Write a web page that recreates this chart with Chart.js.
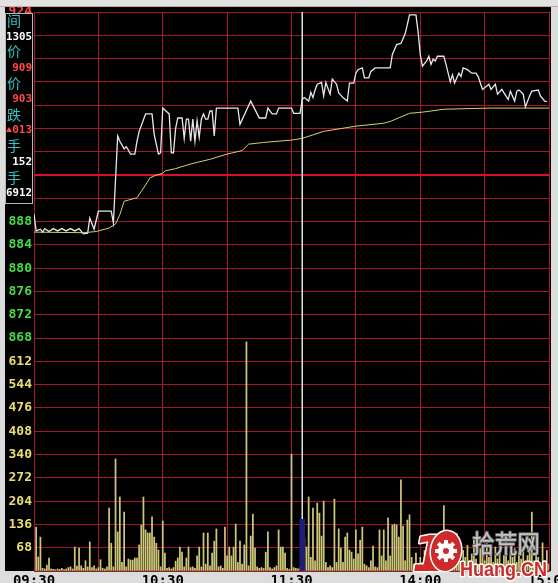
<!DOCTYPE html>
<html>
<head>
<meta charset="utf-8">
<script src="https://cdn.jsdelivr.net/npm/chart.js@4/dist/chart.umd.min.js"></script>
<style>
  html, body { margin: 0; padding: 0; background: #dcdcdc; }
  canvas { display: block; }
</style>
</head>
<body>
<canvas id="cChart" width="558" height="583"></canvas>
<script>
// minute index: 0 = 09:30, 120 = 11:30 / 13:00, 240 = 15:00
var timeLabels = { 0: '09:30', 60: '10:30', 120: '11:30', 180: '14:00', 240: '15:00' };

var prevClose = 896;
var priceMin = 868, priceMax = 924, priceStep = 4;
var volMin = 0, volMax = 680, volStep = 68;

// price line (white), vertices
var priceMinutes = [0, 1, 3, 4, 5, 7, 9, 11, 13, 15, 17, 19, 21, 23, 25, 26, 28, 30, 36, 37,
  39, 40, 42, 43, 45, 47, 48, 49, 52, 55, 56, 58, 59, 60, 63, 64, 65, 66, 67, 69,
  70, 71, 72, 73, 74, 75, 76, 77, 78, 79, 80, 81, 82, 83, 84, 85, 95, 96, 101, 105,
  108, 109, 111, 113, 114, 120, 121, 124, 125, 126, 128, 129, 130, 131, 132, 134, 135, 136, 138, 139,
  141, 142, 144, 146, 147, 149, 150, 151, 153, 154, 156, 157, 159, 166, 167, 169, 171, 173, 175, 178,
  179, 180, 181, 183, 184, 185, 186, 187, 188, 191, 192, 194, 195, 196, 198, 199, 200, 202, 204, 206,
  207, 208, 209, 211, 212, 213, 215, 216, 218, 219, 221, 222, 224, 225, 226, 228, 229, 231, 232, 235,
  236, 238, 239];
var priceValues = [889.3, 886.4, 886.7, 886.2, 886.8, 886.3, 886.8, 886.4, 886.8, 886.4, 886.8, 886.4, 886.8, 885.9, 886.0, 888.6, 886.7, 889.8, 889.8, 887.8,
  902.7, 901.8, 900.5, 900.9, 899.6, 899.6, 901.8, 903.5, 906.5, 906.5, 903.0, 899.6, 899.8, 907.5, 906.5, 899.8, 899.8, 904.0, 905.8, 905.8,
  902.3, 905.6, 905.6, 901.8, 905.6, 901.8, 905.3, 902.5, 905.6, 906.5, 905.6, 905.6, 907.0, 907.0, 902.7, 907.5, 907.5, 904.7, 908.7, 905.8,
  905.8, 907.5, 906.5, 906.5, 907.5, 907.5, 906.6, 906.6, 909.0, 909.3, 908.7, 910.2, 909.3, 910.6, 911.6, 911.9, 909.6, 911.9, 909.9, 912.5,
  911.6, 910.1, 909.3, 908.7, 911.8, 911.8, 913.5, 914.1, 914.4, 912.7, 912.7, 913.8, 914.4, 914.4, 916.7, 918.4, 918.6, 920.3, 923.5, 923.5,
  920.6, 916.7, 914.7, 915.6, 916.4, 915.0, 915.9, 915.6, 916.4, 916.4, 915.0, 912.0, 913.2, 911.8, 913.5, 912.9, 914.4, 914.1, 913.5, 913.5,
  912.9, 911.8, 910.7, 911.3, 911.6, 910.7, 911.6, 909.9, 910.7, 910.1, 909.0, 910.4, 908.7, 910.4, 910.6, 909.9, 907.7, 909.6, 910.4, 910.6,
  909.6, 908.7, 908.6];

// average price line (yellow)
var avgMinutes = [0, 23, 29, 35, 38, 40, 42, 48, 50, 52, 54, 57, 60, 61, 66, 73, 82, 90, 97, 100,
  107, 120, 125, 135, 150, 163, 166, 175, 181, 191, 212, 240];
var avgValues = [886.2, 886.1, 886.3, 886.9, 887.6, 889.2, 891.5, 892.1, 893.2, 894.3, 895.5, 896.0, 896.3, 896.7, 897.1, 897.9, 898.7, 899.6, 900.2, 901.3,
  901.6, 902.0, 902.3, 903.5, 904.4, 904.9, 905.2, 906.6, 906.8, 907.3, 907.5, 907.5];

// volume per minute, 0..240
var volValues = [
  0, 128, 41, 99, 8, 6, 17, 38, 6, 5,
  4, 6, 5, 8, 4, 6, 10, 12, 6, 70,
  14, 67, 15, 8, 30, 12, 85, 10, 15, 6,
  10, 33, 8, 6, 12, 184, 81, 12, 327, 114,
  216, 25, 172, 12, 35, 32, 32, 38, 38, 76,
  134, 216, 120, 111, 111, 158, 99, 81, 61, 12,
  146, 52, 8, 10, 6, 10, 29, 38, 70, 55,
  12, 38, 70, 10, 12, 8, 44, 70, 12, 111,
  20, 111, 15, 52, 87, 123, 12, 15, 8, 128,
  44, 70, 44, 70, 137, 25, 87, 20, 76, 669,
  15, 102, 166, 67, 12, 8, 10, 8, 55, 114,
  10, 6, 10, 15, 120, 70, 70, 52, 8, 5,
  341, 10, 8, 6, 10, 152, 96, 70, 216, 40,
  184, 30, 198, 169, 102, 204, 25, 10, 15, 10,
  210, 25, 123, 67, 25, 99, 111, 61, 55, 35,
  120, 50, 90, 128, 20, 15, 10, 30, 73, 12,
  10, 120, 44, 120, 30, 155, 44, 134, 137, 134,
  99, 266, 131, 30, 149, 164, 40, 20, 52, 15,
  40, 25, 60, 30, 80, 45, 20, 55, 35, 70,
  25, 191, 40, 60, 30, 85, 50, 110, 35, 25,
  60, 40, 75, 30, 50, 90, 35, 20, 65, 45,
  30, 80, 40, 55, 25, 70, 35, 60, 20, 45,
  85, 30, 50, 40, 65, 25, 55, 35, 70, 30,
  45, 60, 172, 30, 50, 40, 25, 82, 30, 60,
  20
];

// crosshair position (13:05) and the info box beside the axis
var cursorMinute = 125;
var infoText = ['间', '1305', '价', '909', '价', '903', '跌', '013', '手', '152', '手', '6912'];
var infoColor = ['#33c4c4', '#ffffff', '#33c4c4', '#ff4848', '#33c4c4', '#ff4848', '#33c4c4', '#ff4848', '#33c4c4', '#ffffff', '#33c4c4', '#ffffff'];

var gridRed = '#a8142c';

function toPoints(xs, ys) {
  var out = [];
  for (var i = 0; i < xs.length; i++) out.push({ x: xs[i], y: ys[i] });
  return out;
}

var volData = volValues.map(function(v, i) { return { x: i, y: v }; });

var framePlugin = {
  id: 'frame',
  beforeDraw: function(chart) {
    var c = chart.ctx;
    c.save();
    c.fillStyle = '#dcdcdc';
    c.fillRect(0, 0, chart.width, chart.height);
    c.fillStyle = '#000';
    c.fillRect(5, 7, 546, 564);
    c.restore();
  },
  afterDatasetsDraw: function(chart) {
    var c = chart.ctx;
    var x = chart.scales.x.getPixelForValue(cursorMinute);
    var yb = chart.scales.yv.getPixelForValue(volValues[cursorMinute]);
    c.save();
    c.strokeStyle = '#e4e4e4';
    c.lineWidth = 1.5;
    c.beginPath();
    c.moveTo(x, chart.chartArea.top);
    c.lineTo(x, yb);
    c.stroke();
    c.restore();
  },
  afterDraw: function(chart) {
    var c = chart.ctx;
    c.save();
    // top strip of the window
    c.fillStyle = '#e2e2e2';
    c.fillRect(0, 0, chart.width, 7);
    c.fillStyle = '#c8a8a8';
    c.fillRect(0, 6, chart.width, 1);

    // info box
    c.fillStyle = '#000';
    c.fillRect(5, 13, 28, 191);
    c.strokeStyle = '#b8b8b8';
    c.lineWidth = 1;
    c.strokeRect(5.5, 13.5, 27, 190);
    var rowY = [21, 37, 51, 68, 83, 99, 115, 130, 146, 162, 178, 193];
    c.textBaseline = 'middle';
    for (var i = 0; i < infoText.length; i++) {
      c.fillStyle = infoColor[i];
      if (i % 2 === 0) {
        c.font = '14px "Noto Sans CJK SC"';
        c.textAlign = 'left';
        c.fillText(infoText[i], 7, rowY[i]);
      } else {
        c.font = 'bold 11px "DejaVu Sans Mono"';
        c.textAlign = 'right';
        c.fillText(infoText[i], 32, rowY[i], 26);
      }
    }
    // small red marker before the change value
    c.fillStyle = '#ff4848';
    c.beginPath();
    c.moveTo(6, 132); c.lineTo(9, 127); c.lineTo(12, 132); c.closePath();
    c.fill();

    // watermark
    c.textAlign = 'left';
    c.textBaseline = 'alphabetic';
    c.lineJoin = 'round';
    c.font = 'italic bold 50px "DejaVu Sans"';
    c.lineWidth = 3;
    c.strokeStyle = '#ffffff';
    c.fillStyle = '#cf2a2a';
    c.strokeText('1', 412, 571);
    c.fillText('1', 412, 571);
    c.beginPath();
    c.ellipse(446, 551, 15, 20, 0.12, 0, Math.PI * 2);
    c.stroke();
    c.fill();
    c.fillStyle = '#ffffff';
    c.beginPath();
    c.arc(446, 551, 8, 0, Math.PI * 2);
    c.fill();
    for (var k = 0; k < 8; k++) {
      var a = k * Math.PI / 4;
      c.save();
      c.translate(446, 551);
      c.rotate(a);
      c.fillRect(-2, -11, 4, 5);
      c.restore();
    }
    c.fillStyle = '#cf2a2a';
    c.beginPath();
    c.arc(446, 551, 3, 0, Math.PI * 2);
    c.fill();

    c.font = '25px "Noto Sans CJK SC"';
    c.lineWidth = 2;
    c.strokeStyle = '#6a6a6a';
    c.fillStyle = '#c4c4c4';
    c.strokeText('拾荒网', 472, 553, 68);
    c.fillText('拾荒网', 472, 553, 68);

    c.font = 'bold 21px "Liberation Sans"';
    c.lineWidth = 3;
    c.strokeStyle = '#ffffff';
    c.fillStyle = '#cf2a2a';
    c.strokeText('Huang.CN', 460, 576, 87);
    c.fillText('Huang.CN', 460, 576, 87);
    c.restore();
  }
};

var ctx = document.getElementById('cChart');
var chartInstance = new Chart(ctx, {
  type: 'bar',
  data: {
    datasets: [{
      type: 'line',
      label: 'price',
      data: toPoints(priceMinutes, priceValues),
      xAxisID: 'x',
      yAxisID: 'y',
      borderColor: '#e8e8e8',
      borderWidth: 1.3,
      pointRadius: 0,
      tension: 0,
      order: 0
    }, {
      type: 'line',
      label: 'average',
      data: toPoints(avgMinutes, avgValues),
      xAxisID: 'x',
      yAxisID: 'y',
      borderColor: '#d8cf6a',
      borderWidth: 1,
      pointRadius: 0,
      tension: 0,
      order: 1
    }, {
      type: 'bar',
      label: 'cursor',
      data: [{ x: cursorMinute, y: volValues[cursorMinute] }],
      xAxisID: 'x',
      yAxisID: 'yv',
      backgroundColor: '#1e1e78',
      barThickness: 5,
      grouped: false,
      order: 2
    }, {
      type: 'bar',
      label: 'volume',
      data: volData,
      xAxisID: 'x',
      yAxisID: 'yv',
      backgroundColor: '#cdc577',
      barThickness: 1.1,
      grouped: false,
      order: 3
    }]
  },
  options: {
    responsive: false,
    animation: false,
    events: [],
    layout: { padding: { left: 4, right: 9, top: 12, bottom: 0 } },
    plugins: { legend: { display: false }, tooltip: { enabled: false } },
    scales: {
      x: {
        type: 'linear',
        min: 0,
        max: 240,
        offset: false,
        grid: { color: gridRed, offset: false, drawTicks: false, lineWidth: 1 },
        border: { color: gridRed },
        ticks: {
          stepSize: 30,
          autoSkip: false,
          maxRotation: 0,
          padding: 2,
          color: '#000',
          font: { family: 'DejaVu Sans Mono', size: 14, weight: 'bold' },
          callback: function(v) { return timeLabels[v] || ''; }
        },
        afterFit: function(s) { s.height = 12; s.paddingLeft = 0; s.paddingRight = 0; }
      },
      yv: {
        type: 'linear',
        position: 'left',
        stack: 'pane',
        stackWeight: 10,
        min: volMin,
        max: volMax,
        grid: { color: gridRed, drawTicks: false },
        border: { color: gridRed },
        ticks: {
          stepSize: volStep,
          autoSkip: false,
          padding: 2,
          color: '#e8df72',
          font: { family: 'DejaVu Sans Mono', size: 13, weight: 'bold' },
          callback: function(v) { return (v === volMin || v === volMax) ? '' : v; }
        },
        afterFit: function(s) { s.width = 30; s.paddingTop = 0; s.paddingBottom = 0; }
      },
      y: {
        type: 'linear',
        position: 'left',
        stack: 'pane',
        stackWeight: 14,
        min: priceMin,
        max: priceMax,
        grid: {
          color: function(c) { return c.tick && c.tick.value === prevClose ? '#d8102e' : gridRed; },
          lineWidth: function(c) { return c.tick && c.tick.value === prevClose ? 2 : 1; },
          drawTicks: false
        },
        border: { color: gridRed },
        ticks: {
          stepSize: priceStep,
          autoSkip: false,
          padding: 2,
          font: { family: 'DejaVu Sans Mono', size: 13, weight: 'bold' },
          color: function(c) {
            var v = c.tick.value;
            if (v < prevClose) return '#44dc44';
            if (v > prevClose) return '#ff4848';
            return '#ffffff';
          }
        },
        afterFit: function(s) { s.width = 30; s.paddingTop = 0; s.paddingBottom = 0; }
      }
    }
  },
  plugins: [framePlugin]
});
</script>
</body>
</html>
